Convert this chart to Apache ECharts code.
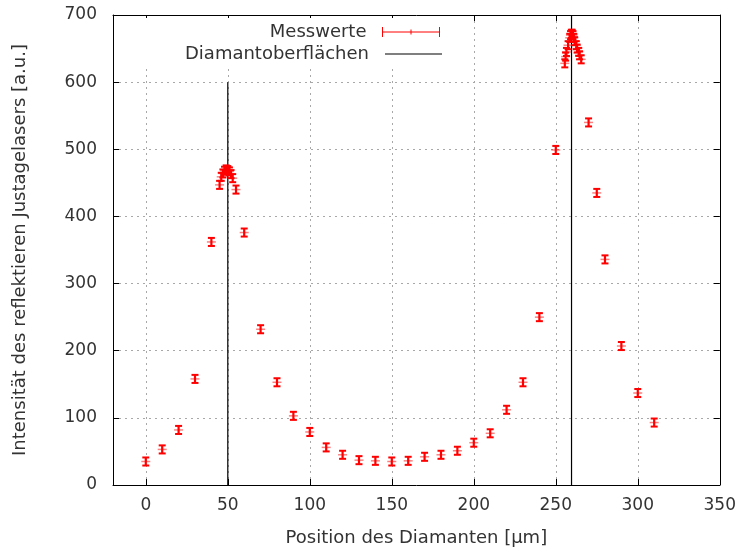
<!DOCTYPE html>
<html>
<head>
<meta charset="utf-8">
<script src="https://cdn.jsdelivr.net/npm/echarts@6/dist/echarts.min.js"></script>
<style>html,body{margin:0;padding:0;background:#fff}#c{width:739px;height:552px}</style>
</head>
<body>
<div id="c"></div>
<script>
// Measured positions (µm) and intensities (a.u.)
const positions = [0,10,20,30,40,45,46,47,48,49,50,51,52,53,55,60,70,80,90,100,110,120,130,140,150,160,170,180,190,200,210,220,230,240,250,
  255.5,256,256.5,257.5,258.5,259,259.5,260,260.5,261,261.5,262.5,263,264,264.5,265.5,270,275,280,290,300,310];
const intensities = [35,53,82,158,362,447,459,464,468,470,469,467,463,457,440,376,232,153,103,79,56,45,37,36,35,36,42,45,51,63,77,112,153,250,499,
  628,638,645,655,666,670,672,672,670,666,661,655,650,645,640,634,540,435,336,207,137,93];
const errorBar = 6;
// Diamond surfaces: x-position and top of drawn line
const surfacePos = [50, 259.6];
const surfaceTop = [600, 700];
const xTicks = [0,50,100,150,200,250,300,350];

const FONT = 'DejaVu Sans';
const TXT = '#333';

const measData = positions.map((p,i)=>[p, intensities[i], errorBar]);
const surfData = surfacePos.map((p,i)=>[p, surfaceTop[i]]);

const chart = echarts.init(document.getElementById('c'), null, {renderer:'canvas'});

const gridLine = {show:true, lineStyle:{color:'#a8a8a8', type:[2,4], width:1}};

chart.setOption({
  animation:false,
  backgroundColor:'#fff',
  grid:{left:113, right:18, top:15, bottom:67, containLabel:false},
  legend:[
    {data:[{name:'Messwerte', icon:'path://M0,0 L0,10 M0,5 L57,5 M57,0 L57,10 M28.5,2.5 L28.5,7.5'}],
     right:297, top:18, padding:[5,0,3,130], align:'right', itemWidth:57, itemHeight:10,
     backgroundColor:'#fff', selectedMode:false,
     itemStyle:{color:'none', borderColor:'#ff0000', borderWidth:1},
     textStyle:{fontFamily:FONT, fontSize:18, color:TXT, padding:[0,11,0,0]}},
    {data:[{name:'Diamantoberflächen', icon:'rect'}],
     right:297, top:40, padding:[5,0,3,43], align:'right', itemWidth:57, itemHeight:1.2,
     backgroundColor:'#fff', selectedMode:false,
     itemStyle:{color:'#000', borderWidth:0},
     textStyle:{fontFamily:FONT, fontSize:18, color:TXT, padding:[0,11,0,0]}}
  ],
  xAxis:[
    {type:'value', min:-20, max:350, position:'bottom',
     name:'Position des Diamanten [µm]', nameLocation:'middle', nameGap:44,
     nameTextStyle:{fontFamily:FONT, fontSize:18, color:TXT},
     axisLine:{show:true, onZero:false, lineStyle:{color:'#000', width:1}},
     axisTick:{show:true, inside:true, length:6, customValues:xTicks, lineStyle:{color:'#000'}},
     axisLabel:{show:true, customValues:xTicks, margin:12, fontFamily:FONT, fontSize:17, color:TXT},
     splitLine:gridLine},
    {type:'value', min:-20, max:350, position:'top',
     axisLine:{show:true, onZero:false, lineStyle:{color:'#000', width:1}},
     axisTick:{show:true, inside:true, length:6, customValues:xTicks, lineStyle:{color:'#000'}},
     axisLabel:{show:false}, splitLine:{show:false}}
  ],
  yAxis:[
    {type:'value', min:0, max:700, interval:100, position:'left',
     name:'Intensität des reflektieren Justagelasers [a.u.]', nameLocation:'middle', nameGap:84,
     nameTextStyle:{fontFamily:FONT, fontSize:18, color:TXT},
     axisLine:{show:true, onZero:false, lineStyle:{color:'#000', width:1}},
     axisTick:{show:true, inside:true, length:6, lineStyle:{color:'#000'}},
     axisLabel:{show:true, margin:16, fontFamily:FONT, fontSize:17, color:TXT},
     splitLine:gridLine},
    {type:'value', min:0, max:700, interval:100, position:'right',
     axisLine:{show:true, onZero:false, lineStyle:{color:'#000', width:1}},
     axisTick:{show:true, inside:true, length:6, lineStyle:{color:'#000'}},
     axisLabel:{show:false}, splitLine:{show:false}}
  ],
  series:[
    {name:'Diamantoberflächen', type:'custom', xAxisIndex:0, yAxisIndex:0, z:3,
     data:surfData, color:'#000',
     renderItem:function(params, api){
       const x = api.value(0), top = api.value(1);
       const a = api.coord([x, 0]), b = api.coord([x, top]);
       return {type:'line', shape:{x1:a[0], y1:a[1], x2:b[0], y2:b[1]}, style:{stroke:'#000', lineWidth:1.2}};
     }},
    {name:'Messwerte', type:'custom', xAxisIndex:0, yAxisIndex:0, z:4,
     data:measData, color:'#ff0000',
     renderItem:function(params, api){
       const x = api.value(0), y = api.value(1), e = api.value(2);
       const hi = api.coord([x, y+e]), lo = api.coord([x, y-e]), c = api.coord([x, y]);
       const cap = 3.5, st = {stroke:'#ff0000', lineWidth:2};
       return {type:'group', children:[
         {type:'line', shape:{x1:hi[0], y1:hi[1], x2:lo[0], y2:lo[1]}, style:{stroke:'#ff0000', lineWidth:2.2}},
         {type:'line', shape:{x1:hi[0]-cap, y1:hi[1], x2:hi[0]+cap, y2:hi[1]}, style:st},
         {type:'line', shape:{x1:lo[0]-cap, y1:lo[1], x2:lo[0]+cap, y2:lo[1]}, style:st},
         {type:'line', shape:{x1:c[0]-4.5, y1:c[1], x2:c[0]+4.5, y2:c[1]}, style:{stroke:'rgba(255,0,0,0.5)', lineWidth:1.5}}
       ]};
     }}
  ]
});
</script>
</body>
</html>
